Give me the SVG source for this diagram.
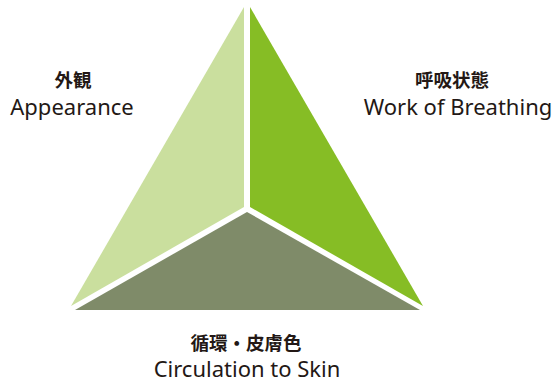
<svg xmlns="http://www.w3.org/2000/svg" width="556" height="384" viewBox="0 0 556 384">
<style>
.jp{font-family:"Noto Sans CJK JP","Noto Sans",sans-serif;font-weight:bold;font-size:18.5px;fill:#231815;text-anchor:middle}
.en{font-family:"Noto Sans","Liberation Sans",sans-serif;font-size:22px;fill:#231815;text-anchor:middle}
</style>
<rect width="556" height="384" fill="#ffffff"/>
<g id="appearance">
<polygon points="244,7 244,207 71,306" fill="#cadf9e"/>
<text class="jp" x="73" y="87">外観</text>
<text class="en" x="72" y="115">Appearance</text>
</g>
<g id="breathing">
<polygon points="250,7 250,207 423,306" fill="#86bd25"/>
<text class="jp" x="452" y="87">呼吸状態</text>
<text class="en" x="458" y="115">Work of Breathing</text>
</g>
<g id="circulation">
<polygon points="247,212 75,310 420,310" fill="#7f8b69"/>
<text class="jp" x="246" y="350">循環・皮膚色</text>
<text class="en" x="247" y="377">Circulation to Skin</text>
</g>
<g id="connectors"></g>
</svg>
